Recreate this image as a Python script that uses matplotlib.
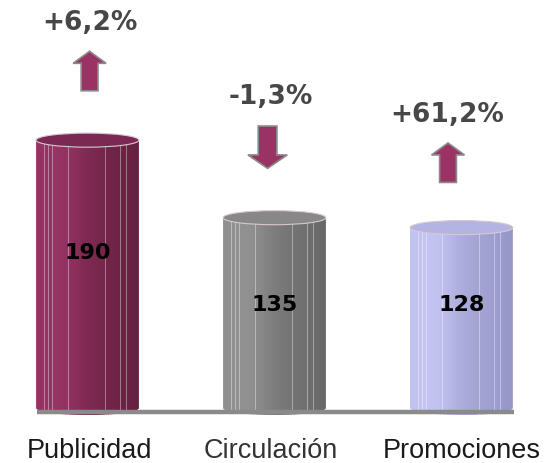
import numpy as np
import matplotlib.pyplot as plt
from matplotlib.patches import Ellipse, PathPatch, FancyArrow
from matplotlib.path import Path
from matplotlib.colors import to_rgb

categories = ['Publicidad', 'Circulación', 'Promociones']
values = [190, 135, 128]
changes = ['+6,2%', '-1,3%', '+61,2%']
direction = [1, -1, 1]

light = ['#a0386b', '#9a9a9a', '#cdcdfa']
dark = ['#66203f', '#686868', '#9696c8']
tops = ['#7a2a52', '#888888', '#b4b4e4']

fig = plt.figure(figsize=(5.6, 4.63), dpi=100)
ax = fig.add_axes([0, 0, 1, 1])
ax.set_xlim(-0.468, 2.527)
ax.set_ylim(-39, 289.4)
ax.axis('off')

w = 0.55   # bar width in x units
e = 10     # ellipse height in value units


def cylinder(x, h, c1, c2, ctop):
    x0, x1 = x - w / 2, x + w / 2
    t = np.linspace(np.pi, 2 * np.pi, 40)
    bottom = np.column_stack([x + w / 2 * np.cos(t), e / 2 * np.sin(t)])
    verts = np.vstack([[[x0, h]], bottom, [[x1, h]], [[x0, h]]])
    codes = [Path.MOVETO] + [Path.LINETO] * (len(verts) - 2) + [Path.CLOSEPOLY]
    body = PathPatch(Path(verts, codes), facecolor='none', edgecolor='none')
    ax.add_patch(body)
    u = np.linspace(0, 1, 200)
    shade = np.clip(0.25 + 0.75 * u - 0.25 * np.exp(-((u - 0.25) / 0.2) ** 2), 0, 1)
    a, b = np.array(to_rgb(c1)), np.array(to_rgb(c2))
    img = a[None, :] * (1 - shade[:, None]) + b[None, :] * shade[:, None]
    im = ax.imshow(img[None, :, :], extent=[x0, x1, -e / 2, h], aspect='auto',
                   interpolation='bilinear', zorder=2)
    im.set_clip_path(body)
    for f in [0.075, 0.115, 0.157, 0.31, 0.67, 0.82, 0.87]:
        xl = x0 + f * w
        yb = -e / 2 * np.sqrt(max(0, 1 - ((xl - x) / (w / 2)) ** 2))
        ax.plot([xl, xl], [yb, h], color='white', lw=0.6, alpha=0.45, zorder=3)
    ax.add_patch(Ellipse((x, h), w, e, facecolor=ctop, edgecolor='#d8c8d0',
                         lw=0.8, zorder=4))


xs = np.arange(len(values))
for i, v in enumerate(values):
    cylinder(xs[i], v, light[i], dark[i], tops[i])

# base line
ax.plot([-0.27, 2.28], [-2.5, -2.5], color='#8a8a8a', lw=3.2,
        solid_capstyle='butt', zorder=5)

# value labels
label_y = [110, 73, 73]
for i, v in enumerate(values):
    ax.text(xs[i], label_y[i], str(v), ha='center', va='center', fontsize=16,
            fontweight='bold', color='black', zorder=6)

# change arrows and labels
arrow_base = [35, 65, 32]   # tail offset above bar top
text_off = [83, 85.5, 80]
arrow_dx = [0.011, -0.037, -0.072]
text_dx = [0.013, -0.019, -0.075]
for i, v in enumerate(values):
    if direction[i] > 0:
        ax.add_patch(FancyArrow(xs[i] + arrow_dx[i], v + arrow_base[i], 0, 28,
                                width=0.09, head_width=0.176, head_length=8.5,
                                length_includes_head=True, facecolor='#9b3264',
                                edgecolor='#8a8a8a', lw=1.2, zorder=6))
    else:
        ax.add_patch(FancyArrow(xs[i] + arrow_dx[i], v + arrow_base[i], 0, -30,
                                width=0.1, head_width=0.21, head_length=9.5,
                                length_includes_head=True, facecolor='#9b3264',
                                edgecolor='#8a8a8a', lw=1.2, zorder=6))
    ax.text(xs[i] + text_dx[i], v + text_off[i], changes[i], ha='center',
            va='center', fontsize=19, fontweight='bold', color='#474747')

# category labels
cat_dx = [0.013, -0.02, 0.0]
cat_col = ['#1a1a1a', '#333333', '#1a1a1a']
for i, c in enumerate(categories):
    ax.text(xs[i] + cat_dx[i], -35.5, c, ha='center', va='baseline',
            fontsize=19.5, color=cat_col[i], family='Liberation Sans')

fig.savefig('out.png', dpi=100)
